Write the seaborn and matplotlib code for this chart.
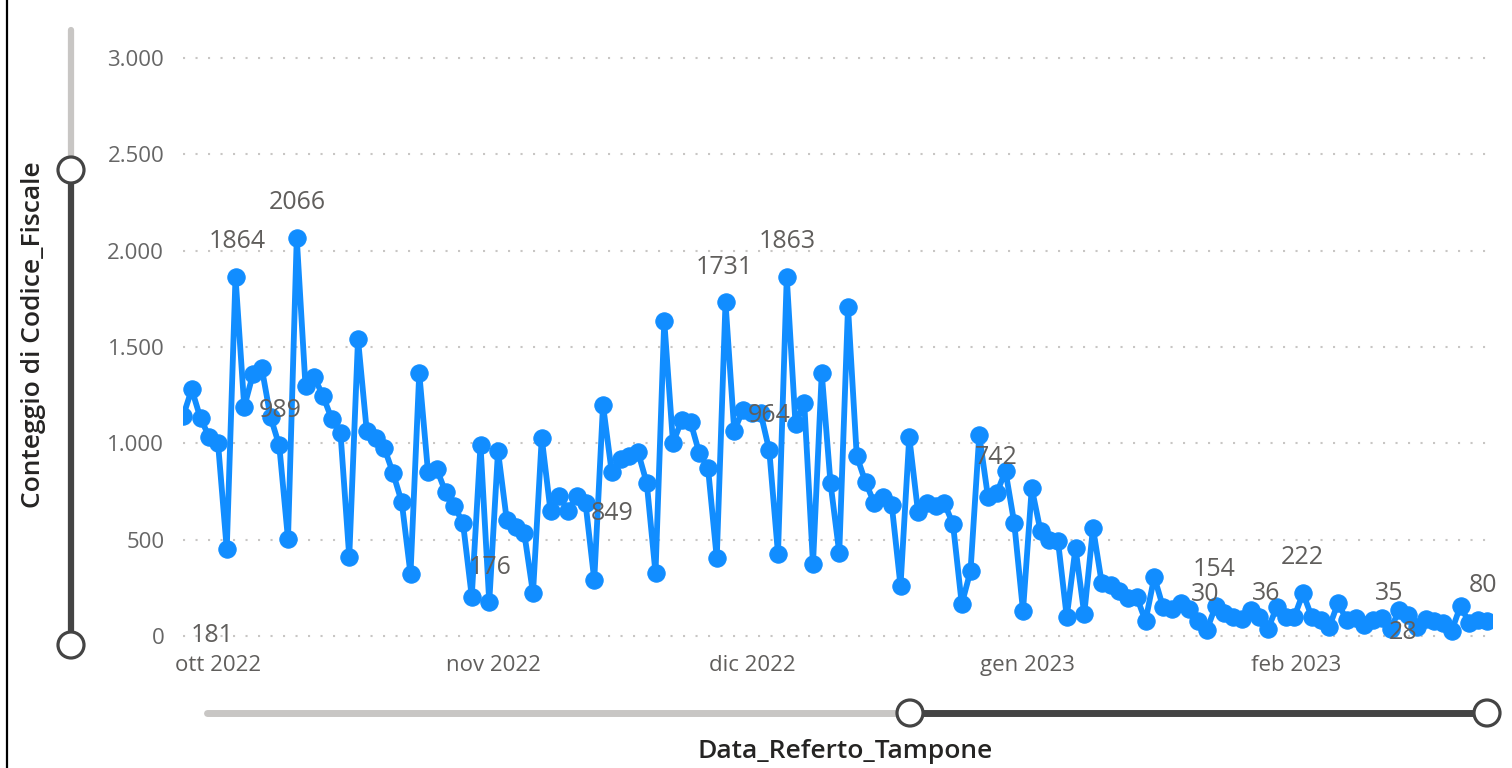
import numpy as np
import pandas as pd
import matplotlib
matplotlib.use("Agg")
import matplotlib.pyplot as plt
import matplotlib.transforms as mtransforms
from matplotlib.lines import Line2D
from matplotlib.patches import Ellipse
from matplotlib import font_manager
import seaborn as sns

# ---------------- data ----------------
start_date = "2022-10-01"
counts = [
    1140, 1280, 1130, 1033, 1002, 451, 1864, 1189, 1360, 1391,
    1137, 989, 503, 2066, 1297, 1344, 1246, 1126, 1053, 410,
    1541, 1064, 1028, 976, 846, 695, 322, 1365, 851, 867,
    747, 675, 586, 205, 991, 176, 960, 602, 566, 534,
    223, 1028, 649, 727, 649, 727, 690, 291, 1199, 849,
    919, 934, 955, 794, 327, 1635, 1002, 1121, 1111, 950,
    872, 405, 1731, 1064, 1175, 1160, 1160, 964, 426, 1863,
    1100, 1209, 374, 1365, 794, 431, 1708, 934, 799, 690,
    721, 680, 260, 1033, 644, 690, 675, 690, 581, 166,
    337, 1043, 721, 742, 856, 586, 130, 768, 545, 498,
    493, 99, 457, 114, 561, 275, 265, 234, 197, 202,
    78, 306, 151, 140, 171, 140, 78, 30, 154, 119,
    99, 88, 135, 99, 36, 151, 99, 99, 222, 99,
    83, 47, 171, 83, 93, 57, 83, 93, 35, 135,
    109, 47, 88, 78, 67, 28, 156, 67, 83, 80,
]
month_ticks = ["2022-10-01", "2022-11-01", "2022-12-01", "2023-01-01", "2023-02-01"]
month_labels = ["ott 2022", "nov 2022", "dic 2022", "gen 2023", "feb 2023"]
y_ticks = [0, 500, 1000, 1500, 2000, 2500, 3000]
y_tick_labels = ["0", "500", "1.000", "1.500", "2.000", "2.500", "3.000"]

# data labels shown on the chart (text, day offset from start, anchor value)
label_texts = ["1864", "2066", "989", "181", "176", "849", "1731", "1863", "964",
               "742", "154", "30", "36", "222", "35", "28", "80"]
label_days = [6.2, 13.1, 11.1, 3.3, 35.1, 49.0, 61.9, 69.0, 67.0,
              92.9, 117.8, 116.8, 123.8, 127.9, 137.8, 139.4, 148.6]
label_values = [2050, 2252, 1173, 0, 358, 638, 1915, 2050, 1147,
                929, 343, 213, 218, 410, 218, 16, 260]

x_title = "Data_Referto_Tampone"
y_title = "Conteggio di Codice_Fiscale"

dates = pd.date_range(start_date, periods=len(counts), freq="D")
df = pd.DataFrame({"Data_Referto_Tampone": dates, "Conteggio": counts})


def pick(*names):
    for n in names:
        try:
            font_manager.findfont(n, fallback_to_default=False)
            return n
        except Exception:
            pass
    return "DejaVu Sans"


sns.set_theme(style="white")
base_font = pick("Open Sans", "Noto Sans", "DejaVu Sans")
plt.rcParams["font.family"] = [base_font, "DejaVu Sans"]

W, H = 1512, 768
fig = plt.figure(figsize=(W / 100, H / 100), dpi=100)
fig.patch.set_facecolor("white")


def fx(px):
    return px / W


def fy(py):
    return 1 - py / H


ax_left, ax_right, ax_top, ax_bot = 183, 1492, 40, 645
ax = fig.add_axes([fx(ax_left), fy(ax_bot), (ax_right - ax_left) / W, (ax_bot - ax_top) / H])
ax.set_facecolor("white")

BLUE = "#118DFF"
sns.lineplot(data=df, x="Data_Referto_Tampone", y="Conteggio", ax=ax, color=BLUE,
             linewidth=4.2, marker="o", markersize=12.5, markeredgecolor=BLUE,
             markerfacecolor=BLUE, solid_joinstyle="round")

# scale: 578 px for 3000 units
ppu = 578 / 3000
ax.set_ylim(-(ax_bot - 636) / ppu, (636 - ax_top) / ppu)
ppd = 8.75
x0 = pd.Timestamp(start_date)
ax.set_xlim(x0, dates[-1] + pd.Timedelta(days=(ax_right - (ax_left + (len(counts) - 1) * ppd)) / ppd))

for s in ax.spines.values():
    s.set_visible(False)

ax.set_yticks(y_ticks)
ax.set_yticklabels(y_tick_labels)
ax.yaxis.grid(True, color="#c8c6c4", linestyle=(0, (1, 5)), linewidth=1.5)
ax.xaxis.grid(False)
ax.tick_params(axis="y", length=0, pad=13.5, labelsize=16, labelcolor="#666666")
ax.set_xticks(pd.to_datetime(month_ticks))
ax.set_xticklabels(month_labels)
ax.tick_params(axis="x", length=0, pad=7.5, labelsize=16, labelcolor="#605E5C")
offset = mtransforms.ScaledTranslation(-8 / 100, 0, fig.dpi_scale_trans)
for lab in ax.get_xticklabels():
    lab.set_ha("left")
    lab.set_transform(lab.get_transform() + offset)
ax.set_xlabel("")
ax.set_ylabel("")

# data labels
for t, d, v in zip(label_texts, label_days, label_values):
    ax.text(x0 + pd.Timedelta(days=d), v, t, ha="center", va="center",
            fontsize=18, color="#605E5C", clip_on=False)

# axis titles
fig.text(fx(34), fy(335), y_title, rotation=90, ha="center", va="center",
         fontsize=19, fontweight="semibold", color="#252423")
fig.text(fx(845), fy(751), x_title, ha="center", va="center",
         fontsize=19, fontweight="semibold", color="#252423")

# left border
fig.add_artist(Line2D([fx(7), fx(7)], [0, 1], color="black", linewidth=1.6))

LIGHT = "#c8c6c4"
DARK = "#444444"
# vertical zoom slider
fig.add_artist(Line2D([fx(71), fx(71)], [fy(30), fy(170)], color=LIGHT, linewidth=4.5,
                      solid_capstyle="round"))
fig.add_artist(Line2D([fx(71), fx(71)], [fy(170), fy(645)], color=DARK, linewidth=4.5,
                      solid_capstyle="round"))
# horizontal zoom slider
fig.add_artist(Line2D([fx(207), fx(910)], [fy(713), fy(713)], color=LIGHT, linewidth=5,
                      solid_capstyle="round"))
fig.add_artist(Line2D([fx(910), fx(1487)], [fy(713), fy(713)], color=DARK, linewidth=5,
                      solid_capstyle="round"))
for cx, cy in [(71, 170), (71, 645), (910, 713), (1487, 713)]:
    fig.add_artist(Ellipse((fx(cx), fy(cy)), 26 / W, 26 / H, facecolor="white",
                           edgecolor=DARK, linewidth=2.3, zorder=5))

fig.savefig("out.png", dpi=100, facecolor="white")
